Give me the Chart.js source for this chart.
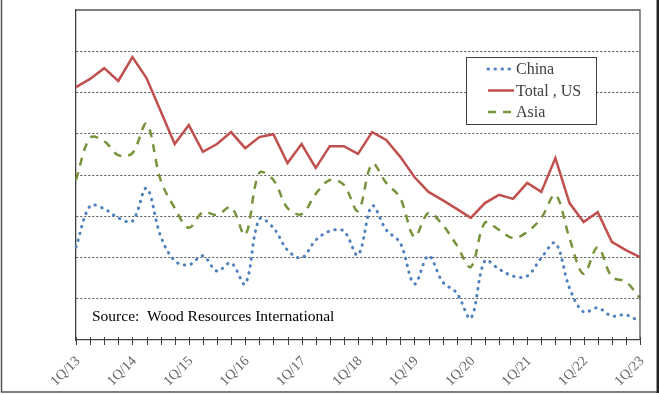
<!DOCTYPE html>
<html>
<head>
<meta charset="utf-8">
<script src="https://cdn.jsdelivr.net/npm/chart.js@4.4.1/dist/chart.umd.min.js"></script>
<style>
  html, body { margin: 0; padding: 0; background: #fff; }
  #wrap { width: 659px; height: 395px; }
</style>
</head>
<body>
<div id="wrap"><canvas id="myChart"></canvas></div>
<script>
const quarters = [
  "1Q/13", "2Q/13", "3Q/13", "4Q/13", "1Q/14", "2Q/14", "3Q/14", "4Q/14",
  "1Q/15", "2Q/15", "3Q/15", "4Q/15", "1Q/16", "2Q/16", "3Q/16", "4Q/16",
  "1Q/17", "2Q/17", "3Q/17", "4Q/17", "1Q/18", "2Q/18", "3Q/18", "4Q/18",
  "1Q/19", "2Q/19", "3Q/19", "4Q/19", "1Q/20", "2Q/20", "3Q/20", "4Q/20",
  "1Q/21", "2Q/21", "3Q/21", "4Q/21", "1Q/22", "2Q/22", "3Q/22", "4Q/22",
  "1Q/23"
];

const china = [2.25, 3.25, 3.18, 2.96, 2.88, 3.68, 2.52, 1.92, 1.82, 2.04, 1.67, 1.87, 1.36, 2.93,
  2.72, 2.18, 1.99, 2.42, 2.64, 2.64, 2.06, 3.25, 2.67, 2.35, 1.36, 2.04, 1.41, 1.14,
  0.53, 1.92, 1.72, 1.55, 1.55, 1.99, 2.35, 1.26, 0.68, 0.78, 0.58, 0.61, 0.44];

const totalUS = [6.13, 6.33, 6.59, 6.28, 6.86, 6.35, 5.55, 4.75, 5.21, 4.56, 4.75, 5.04, 4.65, 4.92,
  4.99, 4.29, 4.75, 4.17, 4.70, 4.70, 4.51, 5.04, 4.85, 4.44, 3.95, 3.59, 3.39, 3.18,
  2.96, 3.32, 3.52, 3.42, 3.81, 3.59, 4.41, 3.32, 2.86, 3.10, 2.38, 2.18, 2.01];

const asia = [3.88, 4.90, 4.82, 4.48, 4.53, 5.24, 3.88, 3.20, 2.72, 3.10, 3.03, 3.22, 2.55, 4.05,
  3.88, 3.20, 3.05, 3.54, 3.88, 3.76, 3.13, 4.27, 3.81, 3.44, 2.50, 3.08, 2.79, 2.30,
  1.77, 2.84, 2.67, 2.47, 2.62, 2.96, 3.52, 2.47, 1.60, 2.25, 1.53, 1.41, 1.02];

const sourceNote = "Source:  Wood Resources International";

const serif = "'Liberation Serif', 'Times New Roman', serif";
const frameColor = "#404040";

// frame, plot border, cross tick marks, legend box and source note
const extras = {
  id: "extras",
  beforeDraw(chart) {
    const ctx = chart.ctx;
    ctx.save();
    ctx.fillStyle = "#fff";
    ctx.fillRect(0, 0, chart.width, chart.height);
    ctx.restore();
  },
  afterDatasetsDraw(chart) {
    const ctx = chart.ctx;
    const a = chart.chartArea;
    const xs = chart.scales.x;
    ctx.save();

    // outer frame: left and bottom thin, right side heavy
    ctx.strokeStyle = "#555";
    ctx.lineWidth = 1.5;
    ctx.beginPath();
    ctx.moveTo(1.5, 0);
    ctx.lineTo(1.5, 392);
    ctx.lineTo(657, 392);
    ctx.stroke();
    ctx.strokeStyle = "#222";
    ctx.lineWidth = 2.5;
    ctx.beginPath();
    ctx.moveTo(657.8, 0);
    ctx.lineTo(657.8, 393);
    ctx.stroke();

    // plot border
    ctx.lineWidth = 1.3;
    ctx.strokeStyle = "#555";
    ctx.beginPath();
    ctx.moveTo(a.left, a.top);
    ctx.lineTo(a.right, a.top);
    ctx.lineTo(a.right, a.bottom);
    ctx.stroke();

    // tick marks crossing the axis
    ctx.strokeStyle = frameColor;
    ctx.lineWidth = 1;
    quarters.forEach((q, i) => {
      const x = Math.round(xs.getPixelForValue(i)) + 0.5;
      ctx.beginPath();
      ctx.moveTo(x, a.bottom - 3);
      ctx.lineTo(x, a.bottom + 5);
      ctx.stroke();
    });

    // source note
    ctx.fillStyle = "#000";
    ctx.font = "15.5px " + serif;
    ctx.textBaseline = "middle";
    ctx.textAlign = "left";
    ctx.fillText(sourceNote, a.left + 16, a.bottom - 23);

    // legend
    const bx = 466, by = 57, bw = 130, bh = 67;
    ctx.fillStyle = "#fff";
    ctx.fillRect(bx, by, bw, bh);
    ctx.strokeStyle = frameColor;
    ctx.lineWidth = 1;
    ctx.strokeRect(bx + 0.5, by + 0.5, bw, bh);
    chart.data.datasets.forEach((ds, i) => {
      const y = by + 12 + i * 21.5;
      ctx.save();
      ctx.strokeStyle = ds.borderColor;
      ctx.lineWidth = ds.borderWidth;
      ctx.lineCap = ds.borderCapStyle || "butt";
      ctx.setLineDash(ds.borderDash || []);
      ctx.beginPath();
      ctx.moveTo(bx + 22, y);
      ctx.lineTo(bx + 48, y);
      ctx.stroke();
      ctx.restore();
      ctx.fillStyle = "#404040";
      ctx.font = "16px " + serif;
      ctx.textBaseline = "middle";
      ctx.fillText(ds.label, bx + 50, y + 1);
    });
    ctx.restore();
  }
};

const data = {
  labels: quarters,
  datasets: [
    {
      label: "China",
      data: china,
      borderColor: "#4F81BD",
      borderWidth: 3,
      borderDash: [0.5, 6.5],
      borderCapStyle: "round",
      tension: 0.35,
      pointRadius: 0,
      fill: false
    },
    {
      label: "Total , US",
      data: totalUS,
      borderColor: "#C0504D",
      borderWidth: 2.5,
      tension: 0,
      pointRadius: 0,
      fill: false
    },
    {
      label: "Asia",
      data: asia,
      borderColor: "#77933C",
      borderWidth: 2.5,
      borderDash: [8, 7],
      tension: 0.35,
      pointRadius: 0,
      fill: false
    }
  ]
};

const config = {
  type: "line",
  data,
  plugins: [extras],
  options: {
    responsive: false,
    animation: false,
    layout: { padding: { top: 10, right: 19, left: 0, bottom: 0 } },
    plugins: {
      legend: { display: false },
      tooltip: { enabled: false }
    },
    scales: {
      x: {
        offset: false,
        afterFit: (s) => { s.height = 55; s.paddingLeft = 0; s.paddingRight = 0; },
        grid: { display: false, drawTicks: false },
        border: { display: true, color: frameColor, width: 1.3 },
        ticks: {
          autoSkip: false,
          minRotation: 45,
          maxRotation: 45,
          padding: 13,
          labelOffset: 2,
          color: "#666",
          font: { family: serif, size: 14 },
          callback: (v, i) => (i % 4 === 0 ? quarters[i] : "")
        }
      },
      y: {
        min: 0,
        max: 8,
        afterFit: (s) => { s.width = 76; },
        ticks: { display: false, stepSize: 1 },
        border: { display: true, color: frameColor, width: 1.3, dash: [2, 2] },
        grid: {
          drawTicks: false,
          color: (c) => (c.tick.value === 0 || c.tick.value === 8 ? "rgba(0,0,0,0)" : "#555"),
          lineWidth: 1
        }
      }
    }
  }
};

const canvas = document.getElementById("myChart");
canvas.width = 659;
canvas.height = 395;
const myChart = new Chart(canvas, config);
</script>
</body>
</html>
